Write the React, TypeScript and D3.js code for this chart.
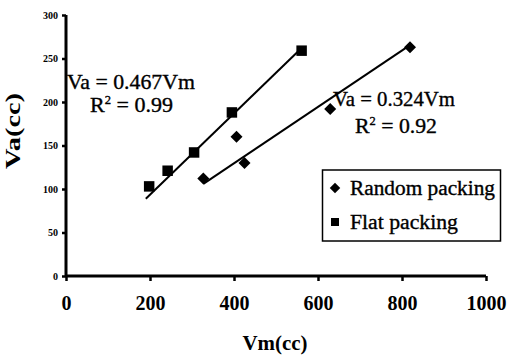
import { useEffect, useRef } from "react";
import { axisBottom, axisLeft, scaleLinear, select, symbol, symbolSquare, line } from "d3";

const randomVm = [327, 406, 425, 629, 819];
const randomVa = [112, 160, 130, 192, 263];
const flatVm = [198, 242, 305, 395, 561];
const flatVa = [103, 121, 142, 188, 259];
const randomSlope = 0.324;
const flatSlope = 0.467;
const randomFitRange = [327, 819];
const flatFitRange = [190, 561];
const xTicks = [0, 200, 400, 600, 800, 1000];
const yTicks = [0, 50, 100, 150, 200, 250, 300];

const serif = "'Liberation Serif', 'Times New Roman', serif";

function Axes({ x, y }: { x: any; y: any }) {
  const xRef = useRef<SVGGElement>(null);
  const yRef = useRef<SVGGElement>(null);

  useEffect(() => {
    if (xRef.current) {
      const g = select(xRef.current);
      g.call(axisBottom(x).tickValues(xTicks).tickSize(5).tickPadding(15).tickFormat((d: any) => String(d)));
      g.select(".domain").attr("stroke-width", 3).attr("d", `M${x(0)},0H${x(1000)}`);
      g.selectAll(".tick line").attr("stroke-width", 2.5);
      g.selectAll(".tick text")
        .attr("font-family", serif)
        .attr("font-weight", "bold")
        .attr("font-size", 20)
        .attr("fill", "#000");
    }
    if (yRef.current) {
      const g = select(yRef.current);
      g.call(axisLeft(y).tickValues(yTicks).tickSize(4).tickPadding(4).tickFormat((d: any) => String(d)));
      g.select(".domain").attr("stroke-width", 3).attr("d", `M0,${y(300)}V${y(0)}`);
      g.selectAll(".tick line").attr("stroke-width", 2.5);
      g.selectAll(".tick text")
        .attr("font-family", serif)
        .attr("font-weight", "bold")
        .attr("font-size", 10)
        .attr("fill", "#000");
    }
  }, [x, y]);

  return (
    <>
      <g ref={xRef} transform={`translate(0,${y(0)})`} />
      <g ref={yRef} transform={`translate(${x(0)},0)`} />
    </>
  );
}

export default function App() {
  const x = scaleLinear().domain([0, 1000]).range([66, 486]);
  const y = scaleLinear().domain([0, 300]).range([276, 15]);

  const square = symbol().type(symbolSquare).size(110)()!;
  const diamond = symbol().type(symbolSquare).size(72)()!;
  const fit = line<number[]>()
    .x((d) => x(d[0]))
    .y((d) => y(d[1]));

  const randomLine = fit(randomFitRange.map((v) => [v, v * randomSlope]));
  const flatLine = fit(flatFitRange.map((v) => [v, v * flatSlope]));

  const note = { fontFamily: serif, fill: "#000", stroke: "#000", strokeWidth: 0.35 };

  return (
    <svg width={510} height={359} style={{ position: "absolute", left: 0, top: 0, background: "#fff" }}>
      <Axes x={x} y={y} />

      <path d={flatLine!} stroke="#000" strokeWidth={2} fill="none" />
      <path d={randomLine!} stroke="#000" strokeWidth={2} fill="none" />

      {flatVm.map((v, i) => (
        <path key={`f-${i}`} d={square} transform={`translate(${x(v)},${y(flatVa[i])})`} fill="#000" />
      ))}
      {randomVm.map((v, i) => (
        <path key={`r-${i}`} d={diamond} transform={`translate(${x(v)},${y(randomVa[i])}) rotate(45)`} fill="#000" />
      ))}

      <text x={67} y={89} fontSize={21} textLength={128} lengthAdjust="spacingAndGlyphs" {...note}>Va = 0.467Vm</text>
      <text x={90} y={112} fontSize={21} textLength={83} lengthAdjust="spacingAndGlyphs" {...note}>
        R<tspan fontSize={12} dy={-8}>2</tspan><tspan dy={8}> = 0.99</tspan>
      </text>
      <text x={333} y={106} fontSize={21} textLength={122} lengthAdjust="spacingAndGlyphs" {...note}>Va = 0.324Vm</text>
      <text x={355} y={133} fontSize={21} textLength={82} lengthAdjust="spacingAndGlyphs" {...note}>
        R<tspan fontSize={12} dy={-8}>2</tspan><tspan dy={8}> = 0.92</tspan>
      </text>

      <text
        x={275}
        y={350}
        textAnchor="middle"
        fontFamily={serif}
        fontWeight="bold"
        fontSize={20}
        textLength={65}
        lengthAdjust="spacingAndGlyphs"
      >
        Vm(cc)
      </text>
      <text
        transform="translate(20,131) rotate(-90)"
        textAnchor="middle"
        fontFamily={serif}
        fontWeight="bold"
        fontSize={21}
        textLength={76}
        lengthAdjust="spacingAndGlyphs"
      >
        Va(cc)
      </text>

      <rect x={322.5} y={170} width={178} height={71} fill="#fff" stroke="#000" strokeWidth={1.5} />
      <path d={symbol().type(symbolSquare).size(55)()!} transform="translate(335,188) rotate(45)" fill="#000" />
      <text x={350} y={195} fontSize={20} textLength={145} lengthAdjust="spacingAndGlyphs" {...note}>Random packing</text>
      <path d={symbol().type(symbolSquare).size(65)()!} transform="translate(335,222)" fill="#000" />
      <text x={350} y={229} fontSize={20} textLength={108} lengthAdjust="spacingAndGlyphs" {...note}>Flat packing</text>
    </svg>
  );
}
